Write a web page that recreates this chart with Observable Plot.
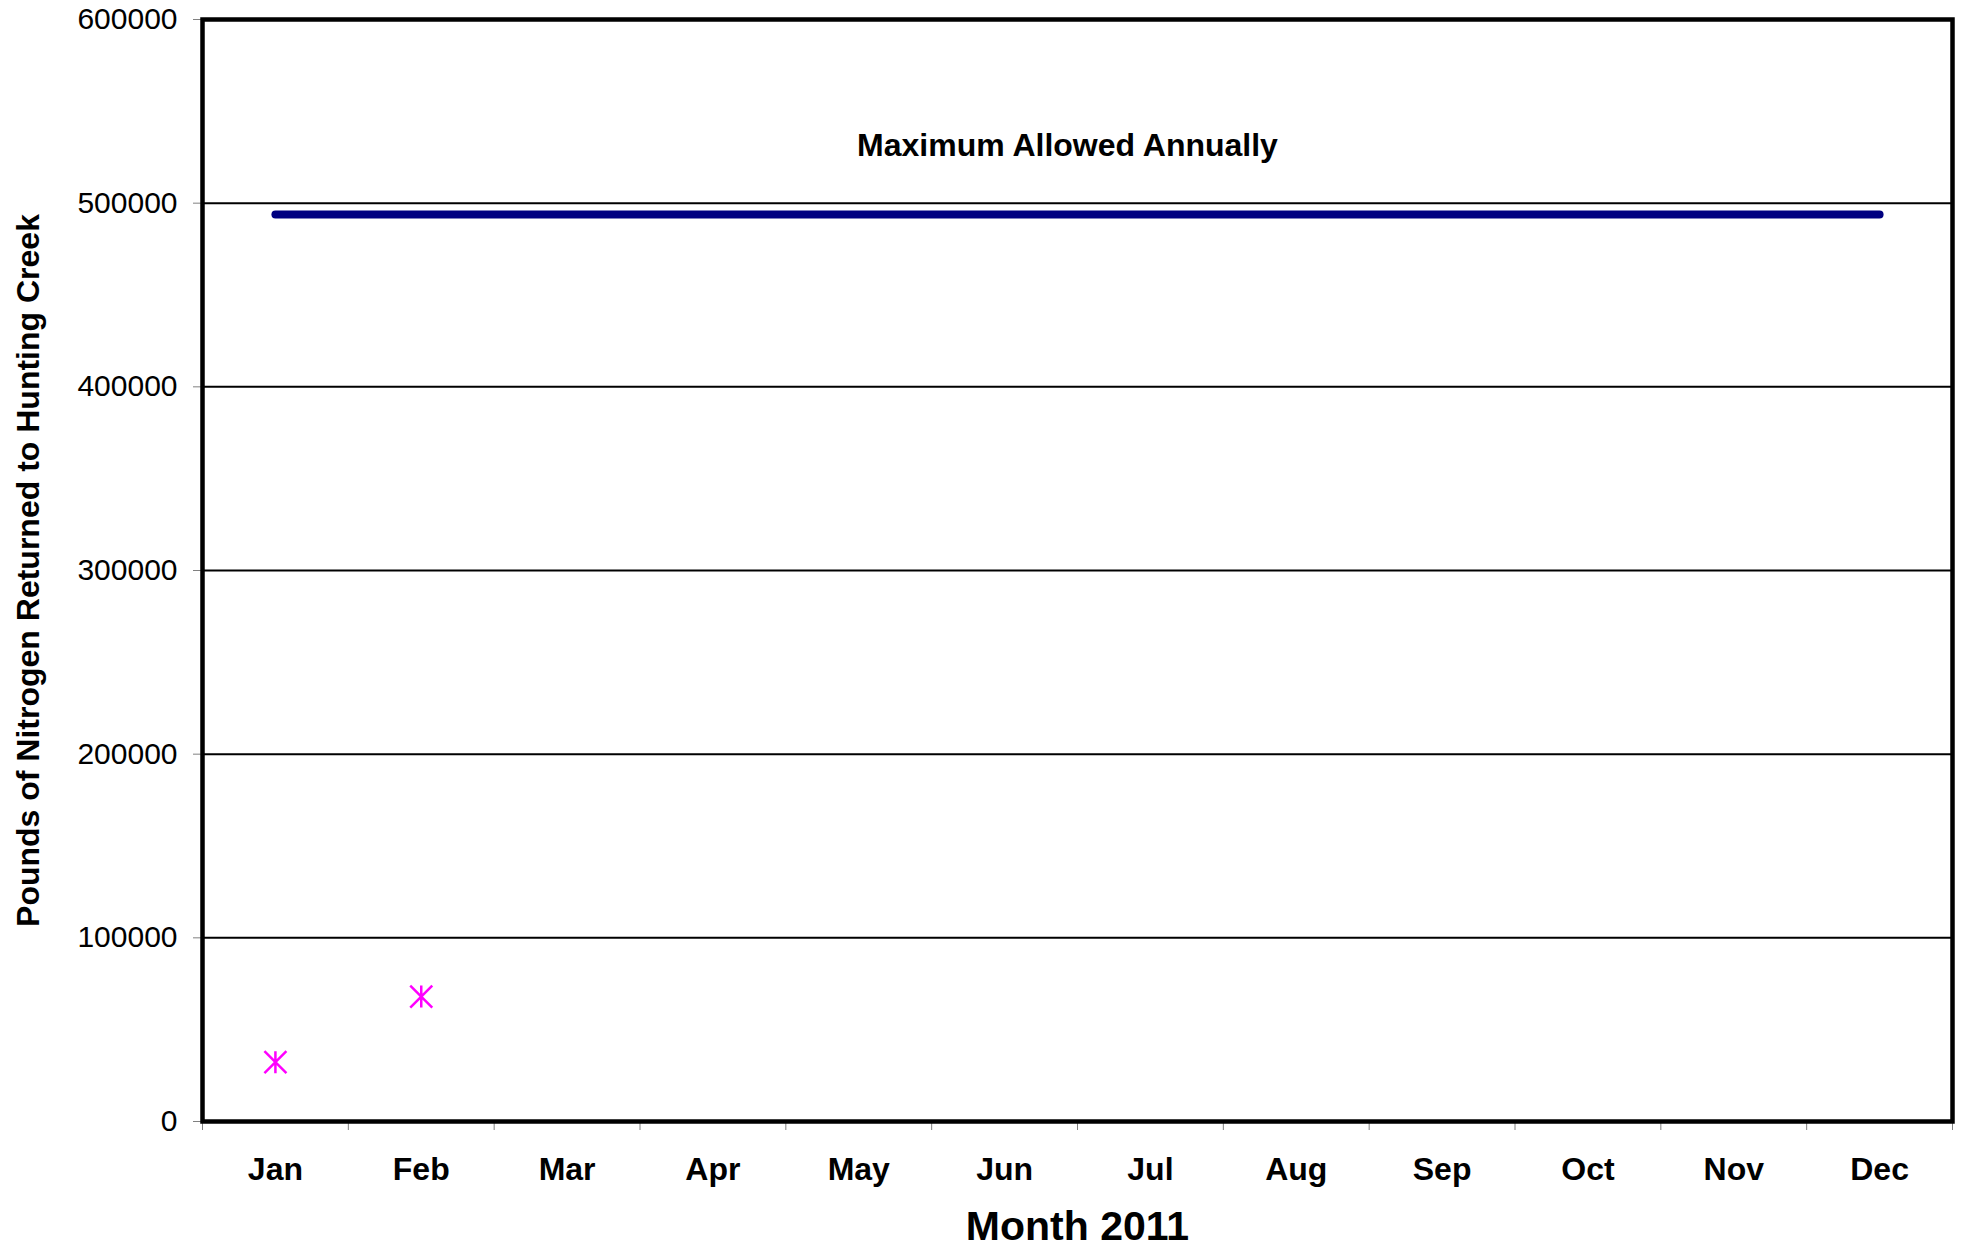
<!DOCTYPE html>
<html>
<head>
<meta charset="utf-8">
<script src="https://cdn.jsdelivr.net/npm/d3@7"></script>
<script src="https://cdn.jsdelivr.net/npm/@observablehq/plot@0.6"></script>
<style>
  html, body { margin: 0; padding: 0; background: #ffffff; }
  #chart svg { display: block; }
</style>
</head>
<body>
<div id="chart"></div>
<script>
// ---- Data ----
const months = ["Jan", "Feb", "Mar", "Apr", "May", "Jun", "Jul", "Aug", "Sep", "Oct", "Nov", "Dec"];
const nitrogenMonths = ["Jan", "Feb"];
const nitrogenValues = [32300, 68000];
const maxAllowedValues = [493800, 493800, 493800, 493800, 493800, 493800, 493800, 493800, 493800, 493800, 493800, 493800];
const yTickValues = [0, 100000, 200000, 300000, 400000, 500000, 600000];
const gridValues = [100000, 200000, 300000, 400000, 500000];
const annotationLabel = "Maximum Allowed Annually";
const yLabel = "Pounds of Nitrogen Returned to Hunting Creek";
const xLabel = "Month 2011";

// month position (center of each month slot)
const monthPos = m => months.indexOf(m) + 0.5;
const boundaryTicks = d3.range(months.length + 1);
const labelTicks = months.map(monthPos);

const nitrogen = nitrogenMonths.map((m, i) => ({month: m, value: nitrogenValues[i]}));
const maxLine = months.map((m, i) => ({month: m, value: maxAllowedValues[i]}));

// asterisk symbol: vertical bar + X
const asterisk = {
  draw(context, size) {
    const r = Math.sqrt(size / Math.PI);
    context.moveTo(0, -r); context.lineTo(0, r);
    context.moveTo(-r, -r); context.lineTo(r, r);
    context.moveTo(r, -r); context.lineTo(-r, r);
  }
};

const chart = Plot.plot({
  width: 1965,
  height: 1249,
  marginLeft: 202,
  marginRight: 13,
  marginTop: 19,
  marginBottom: 128,
  style: {fontFamily: "'Liberation Sans', Arial, sans-serif", background: "#ffffff", color: "#000000"},
  x: {type: "linear", domain: [0, months.length], axis: null},
  y: {domain: [0, 600000], axis: null},
  marks: [
    Plot.ruleY(gridValues, {stroke: "#000000", strokeWidth: 2}),
    Plot.axisY(yTickValues, {
      label: null,
      tickSize: 9, tickPadding: 16, fontSize: 30,
      stroke: "#808080", fill: "#000000",
      tickFormat: d => String(d)
    }),
    Plot.axisX(boundaryTicks, {
      label: null,
      tickSize: 9, stroke: "#808080", tickFormat: () => ""
    }),
    Plot.axisX(labelTicks, {
      label: null,
      tickSize: 0, tickPadding: 36, fontSize: 32, fontWeight: "bold", fill: "#000000",
      tickFormat: d => months[Math.floor(d)]
    }),
    Plot.line(maxLine, {
      x: d => monthPos(d.month), y: "value",
      stroke: "#000080", strokeWidth: 8, strokeLinecap: "round"
    }),
    Plot.dot(nitrogen, {
      x: d => monthPos(d.month), y: "value",
      symbol: asterisk, r: 11, fill: "none", stroke: "#ff00ff", strokeWidth: 2.5
    }),
    Plot.frame({stroke: "#000000", strokeWidth: 4.5}),
    Plot.text([annotationLabel], {
      frameAnchor: "top", lineAnchor: "middle", dx: -10, dy: 126,
      fontSize: 32, fontWeight: "bold", fill: "#000000"
    }),
    Plot.text([yLabel], {
      frameAnchor: "left", lineAnchor: "middle", textAnchor: "middle", rotate: -90, dx: -174,
      fontSize: 32, fontWeight: "bold", fill: "#000000"
    }),
    Plot.text([xLabel], {
      frameAnchor: "bottom", lineAnchor: "middle", dy: 105,
      fontSize: 41, fontWeight: "bold", fill: "#000000"
    })
  ]
});

document.getElementById("chart").appendChild(chart);
</script>
</body>
</html>
